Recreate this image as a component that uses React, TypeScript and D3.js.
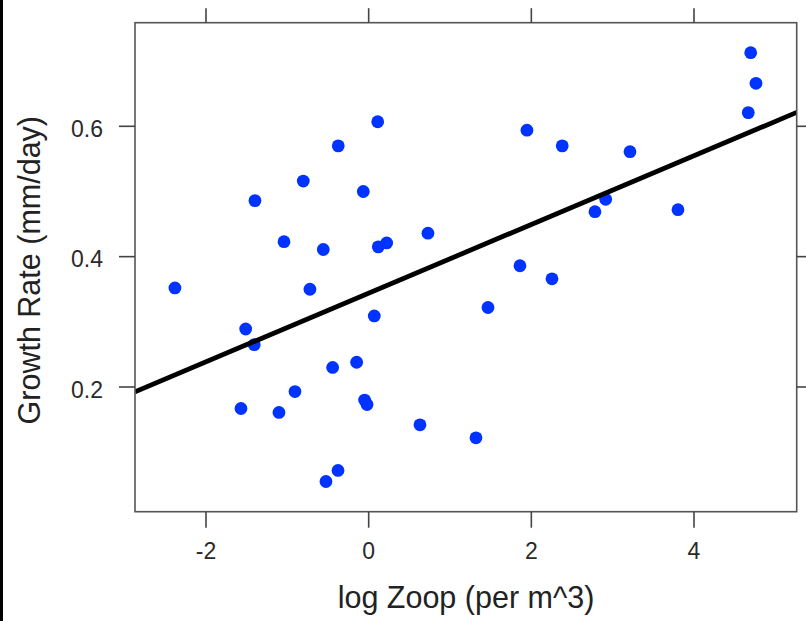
import React from "react";
import * as d3 from "d3";

const logZoop = [
  -2.382, -1.512, -1.407, -1.57, -1.103, -0.906, -1.398, -1.041, -0.804, -0.722,
  -0.558, -0.443, -0.374, -0.148, -0.066, -0.05, -0.02, 0.069, 0.111, 0.118,
  0.221, -0.377, -0.525, 0.631, 0.729, 1.319, 1.467, 1.86, 1.946, 2.254,
  2.38, 2.782, 2.914, 3.213, 3.803, 4.667, 4.697, 4.762,
];
const growthRate = [
  0.352, 0.289, 0.265, 0.167, 0.161, 0.193, 0.486, 0.423, 0.516, 0.35,
  0.411, 0.23, 0.57, 0.238, 0.5, 0.18, 0.173, 0.309, 0.607, 0.415,
  0.421, 0.072, 0.055, 0.142, 0.436, 0.122, 0.322, 0.386, 0.594, 0.366,
  0.57, 0.469, 0.488, 0.561, 0.472, 0.621, 0.713, 0.666,
];
const fitIntercept = 0.344;
const fitSlope = 0.0527;
const xTicks = [-2, 0, 2, 4];
const yTicks = [0.2, 0.4, 0.6];

const W = 806;
const H = 621;
const L = 135, R = 796.7, T = 22.7, B = 511.7;

export default function App() {
  const x = d3.scaleLinear().domain([-2, 4]).range([206, 694]);
  const y = d3.scaleLinear().domain([0.2, 0.6]).range([387, 126.3]);
  const x0 = x.invert(L), x1 = x.invert(R);
  const line = d3.line<number>()
    .x((d) => x(d))
    .y((d) => y(fitIntercept + fitSlope * d));
  const font = "'Liberation Sans', Arial, Helvetica, sans-serif";
  const tickLen = 16;
  return (
    <svg width={W} height={H} style={{ position: "absolute", left: 0, top: 0, background: "#fff" }}>
      <rect x={0} y={0} width={W} height={H} fill="#fff" />
      <rect x={0} y={0} width={3} height={H} fill="#000" />
      <defs>
        <clipPath id="plot">
          <rect x={L} y={T} width={R - L} height={B - T} />
        </clipPath>
      </defs>
      <g clipPath="url(#plot)">
        {logZoop.map((d, i) => (
          <circle key={i} cx={x(d)} cy={y(growthRate[i])} r={6.4} fill="#0033ff" />
        ))}
        <path d={line([x0, x1]) || ""} stroke="#000" strokeWidth={4.8} fill="none" />
      </g>
      <rect x={L} y={T} width={R - L} height={B - T} fill="none" stroke="#555" strokeWidth={1.6} />
      {xTicks.map((t) => (
        <g key={"x" + t}>
          <line x1={x(t)} x2={x(t)} y1={B} y2={B + tickLen} stroke="#444" strokeWidth={1.6} />
          <line x1={x(t)} x2={x(t)} y1={T} y2={T - 14.5} stroke="#444" strokeWidth={1.6} />
          <text x={x(t)} y={559} textAnchor="middle" fontFamily={font} fontSize={23} fill="#2a2a2a">
            {t < 0 ? "-" + Math.abs(t) : String(t)}
          </text>
        </g>
      ))}
      {yTicks.map((t) => (
        <g key={"y" + t}>
          <line x1={L - tickLen} x2={L} y1={y(t)} y2={y(t)} stroke="#444" strokeWidth={1.6} />
          <line x1={R} x2={R + tickLen} y1={y(t)} y2={y(t)} stroke="#444" strokeWidth={1.6} />
          <text x={103} y={y(t) + 10.5} textAnchor="end" fontFamily={font} fontSize={23} fill="#2a2a2a">
            {t.toFixed(1)}
          </text>
        </g>
      ))}
      <text x={466} y={608} textAnchor="middle" fontFamily={font} fontSize={30.5} fill="#222">
        log Zoop (per m^3)
      </text>
      <text
        transform={`translate(40, ${(T + B) / 2 + 3}) rotate(-90)`}
        textAnchor="middle"
        fontFamily={font}
        fontSize={30.5}
        fill="#222"
      >
        Growth Rate (mm/day)
      </text>
    </svg>
  );
}
